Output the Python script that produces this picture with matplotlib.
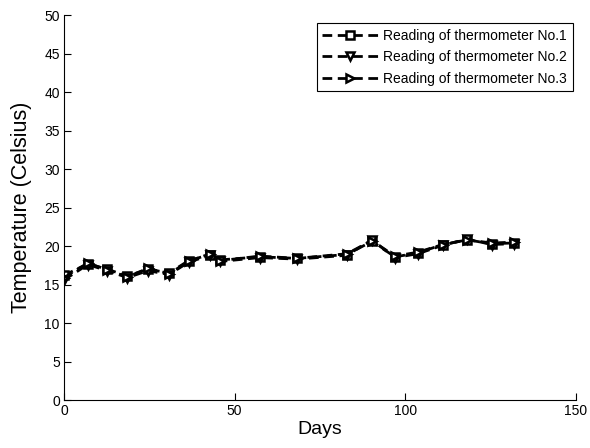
import numpy as np
import matplotlib.pyplot as plt

plt.rcParams['font.family'] = ['Liberation Sans', 'DejaVu Sans']

days = [0, 7, 12.6, 18.6, 24.6, 30.8, 36.5, 42.8, 45.8, 57.4, 68.3, 82.9, 90.2, 97, 103.7, 111, 118.2, 125.3, 132]
temp1 = [16.2, 17.7, 17.0, 16.1, 17.0, 16.5, 18.1, 18.9, 18.2, 18.6, 18.4, 18.9, 20.6, 18.6, 19.1, 20.2, 20.8, 20.3, 20.4]
temp2 = [15.6, 17.6, 16.8, 15.9, 16.8, 16.3, 17.9, 18.8, 18.0, 18.5, 18.3, 18.8, 20.8, 18.5, 19.0, 20.1, 20.9, 20.2, 20.3]
temp3 = [15.9, 17.8, 16.9, 16.0, 17.1, 16.4, 18.0, 19.0, 18.1, 18.7, 18.4, 19.0, 20.7, 18.7, 19.2, 20.2, 20.8, 20.4, 20.5]
labels = ['Reading of thermometer No.1', 'Reading of thermometer No.2', 'Reading of thermometer No.3']
markers = ['s', 'v', '>']

fig = plt.figure(figsize=(5.9, 4.48), dpi=100)
ax = fig.add_axes([0.1085, 0.107, 0.8675, 0.8595])

for t, m, lab in zip([temp1, temp2, temp3], markers, labels):
    ax.plot(days, t, linestyle='--', dashes=(3.5, 2), color='black', linewidth=2,
            marker=m, markersize=6, markerfacecolor='white', markeredgecolor='black',
            markeredgewidth=1.8, label=lab)

ax.set_xlim(0, 150)
ax.set_ylim(0, 50)
ax.set_xticks([0, 50, 100, 150])
ax.set_yticks(np.arange(0, 51, 5))
ax.tick_params(direction='in', labelsize=10, length=5, pad=3)
ax.spines['top'].set_visible(False)
ax.spines['right'].set_visible(False)
ax.set_xlabel('Days', fontsize=14, labelpad=2)
ax.set_ylabel('Temperature (Celsius)', fontsize=15.5, labelpad=9)

leg = ax.legend(loc='upper right', bbox_to_anchor=(0.994, 0.979), fontsize=10,
                fancybox=False, edgecolor='black', framealpha=1, handlelength=4.0,
                handletextpad=0.4, labelspacing=0.55, borderaxespad=0, borderpad=0.4)
leg.get_frame().set_linewidth(0.8)

fig.savefig('out.png', dpi=100)
